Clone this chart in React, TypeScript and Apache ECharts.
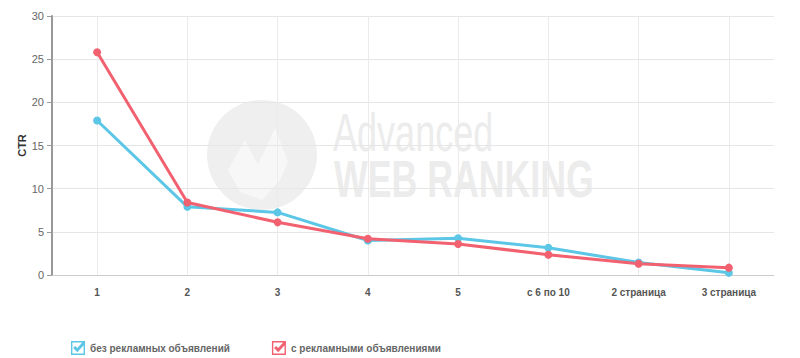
import React, { useEffect, useRef } from "react";
import * as echarts from "echarts";

const categories = ["1", "2", "3", "4", "5", "с 6 по 10", "2 страница", "3 страница"];
const withoutAds = [17.9, 7.9, 7.25, 4.0, 4.25, 3.15, 1.45, 0.25];
const withAds = [25.8, 8.4, 6.1, 4.2, 3.6, 2.35, 1.3, 0.85];
const seriesNames = ["без рекламных объявлений", "с рекламными объявлениями"];
const yTicks = { min: 0, max: 30, interval: 5 };

const checkIcon =
  "path://M0,0 L20,0 L20,20 L0,20 Z M2,2 L2,18 L18,18 L18,2 Z M3,10 L6,7 L9,10 L17,1 L20,4 L9,16 Z";

export default function App() {
  const ref = useRef<HTMLDivElement>(null);
  useEffect(() => {
    if (!ref.current) return;
    const chart = echarts.init(ref.current, undefined, { renderer: "svg" });
    chart.setOption({
      animation: false,
      backgroundColor: "#ffffff",
      grid: { left: 52, right: 26, top: 16, bottom: 83 },
      graphic: [
        {
          type: "group",
          z: -10,
          silent: true,
          children: [
            {
              type: "circle",
              shape: { cx: 262, cy: 155, r: 55 },
              style: { fill: "#efefef" },
            },
            {
              type: "polygon",
              shape: { points: [[228, 170], [245, 140], [258, 165], [275, 128], [288, 162], [280, 180], [262, 200], [240, 192]] },
              style: { fill: "#f7f7f7" },
            },
            {
              type: "text",
              x: 333,
              y: 133,
              scaleX: 0.68,
              style: {
                text: "Advanced",
                fontSize: 53,
                lineHeight: 40,
                verticalAlign: "middle",
                fontFamily: "Liberation Sans, Arial, sans-serif",
                fontWeight: "normal",
                fill: "#ececec",
              },
            },
            {
              type: "text",
              x: 334,
              y: 179,
              scaleX: 0.7,
              style: {
                text: "WEB RANKING",
                fontSize: 51,
                lineHeight: 40,
                verticalAlign: "middle",
                fontFamily: "Liberation Sans, Arial, sans-serif",
                fontWeight: "bold",
                fill: "#ececec",
              },
            },
          ],
        },
      ],
      legend: {
        left: 66,
        top: 336,
        itemWidth: 14,
        itemHeight: 14,
        itemGap: 42,
        icon: checkIcon,
        textStyle: {
          fontSize: 10,
          fontWeight: "bold",
          color: "#666",
          fontFamily: "Liberation Sans, Arial, sans-serif",
        },
        data: seriesNames,
      },
      xAxis: {
        type: "category",
        data: categories,
        boundaryGap: true,
        axisLine: { lineStyle: { color: "#cccccc", width: 1 } },
        axisTick: { show: false },
        axisLabel: {
          fontSize: 10,
          color: "#555",
          margin: 12,
          fontFamily: "Liberation Sans, Arial, sans-serif",
          fontWeight: "bold",
        },
        splitLine: { show: false },
      },
      yAxis: {
        type: "value",
        min: yTicks.min,
        max: yTicks.max,
        interval: yTicks.interval,
        name: "CTR",
        nameLocation: "middle",
        nameGap: 25,
        nameMoveOverlap: false,
        nameRotate: 90,
        nameTextStyle: { fontSize: 11, fontWeight: "bold", color: "#333", fontFamily: "Arial, sans-serif" },
        axisLine: { show: true, lineStyle: { color: "#999", width: 2 } },
        axisTick: { show: true, length: 5, lineStyle: { color: "#999" } },
        axisLabel: { fontSize: 11, color: "#666", margin: 8, fontFamily: "Arial, sans-serif" },
        splitLine: { lineStyle: { color: "#e6e6e6", width: 1 } },
      },
      series: [
        {
          name: seriesNames[0],
          type: "line",
          data: withoutAds,
          color: "#5cc6e6",
          symbol: "circle",
          symbolSize: 8,
          lineStyle: { width: 3 },
          markLine: {
            silent: true,
            symbol: "none",
            z: 1,
            label: { show: false },
            lineStyle: { color: "#ebebeb", type: "solid", width: 1 },
            data: categories.map((c) => ({ xAxis: c })),
          },
        },
        {
          name: seriesNames[1],
          type: "line",
          data: withAds,
          color: "#f2616f",
          symbol: "circle",
          symbolSize: 8,
          lineStyle: { width: 3 },
        },
      ],
    });
    return () => chart.dispose();
  }, []);
  return (
    <div
      ref={ref}
      style={{ position: "fixed", left: 0, top: 0, width: 800, height: 358 }}
    />
  );
}
